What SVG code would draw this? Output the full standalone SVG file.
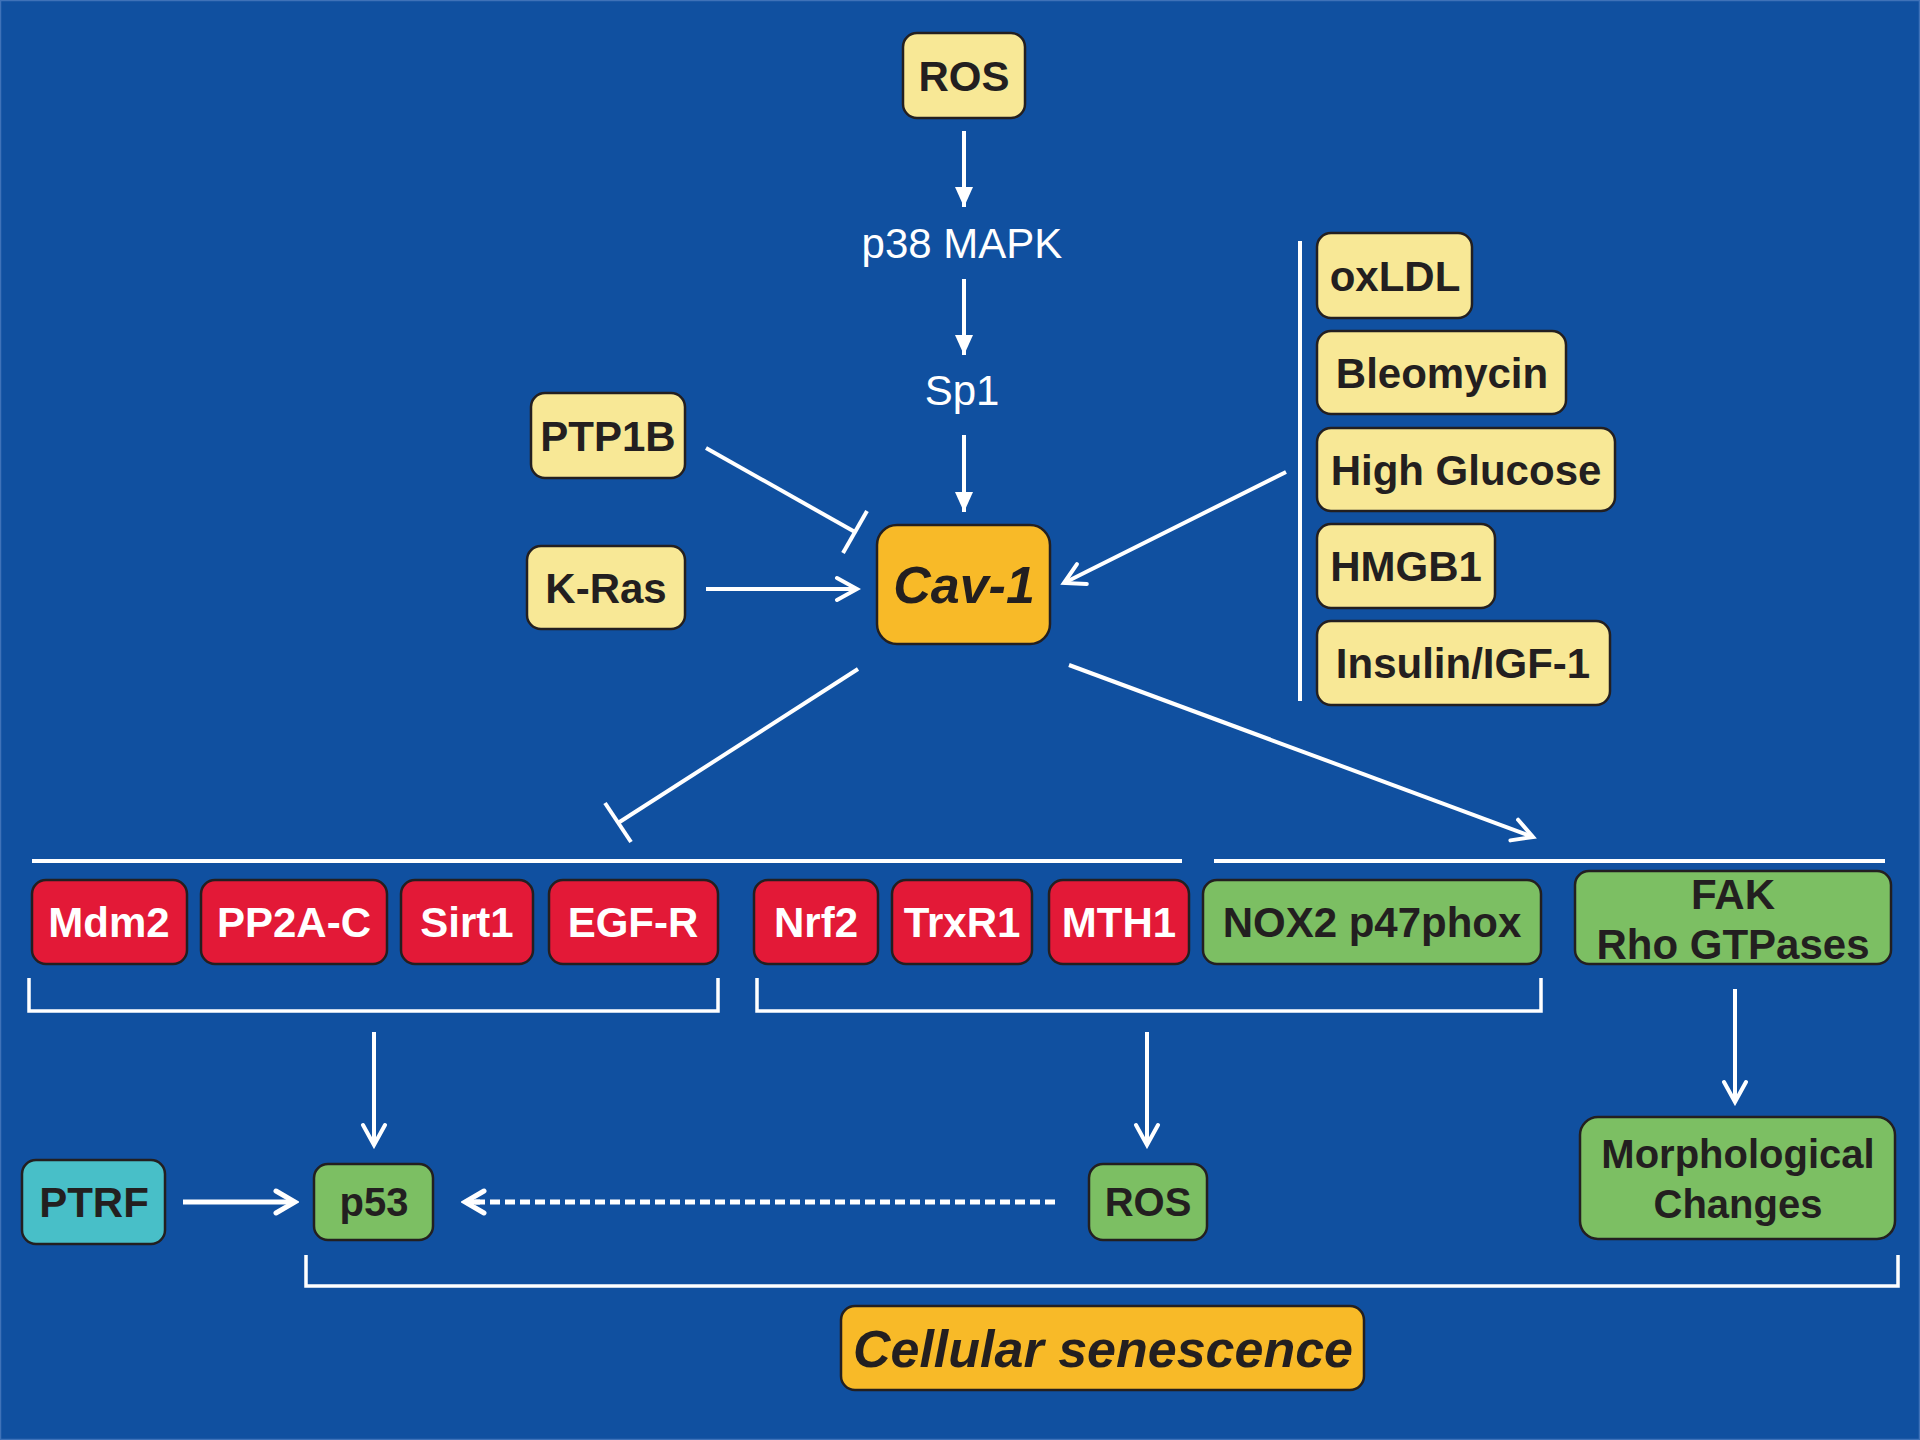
<svg xmlns="http://www.w3.org/2000/svg" width="1920" height="1440" viewBox="0 0 1920 1440">
<defs>
<style>
.box{stroke:#231F20;stroke-width:2.5}
.y{fill:#F8E896}
.r{fill:#E31937}
.g{fill:#7CBF63}
.t{fill:#48BFC8}
.o{fill:#F8BA28}
.lb{font-family:"Liberation Sans",Arial,sans-serif;font-weight:bold;font-size:42px;text-anchor:middle;fill:#231F20}
.lw{font-family:"Liberation Sans",Arial,sans-serif;font-weight:bold;font-size:42px;text-anchor:middle;fill:#FFFFFF}
.plain{font-family:"Liberation Sans",Arial,sans-serif;font-size:42px;text-anchor:middle;fill:#FFFFFF}
.bi{font-family:"Liberation Sans",Arial,sans-serif;font-weight:bold;font-style:italic;font-size:52px;text-anchor:middle;fill:#231F20}
.ln{stroke:#FFFFFF;stroke-width:4;fill:none}
.thick{stroke:#FFFFFF;stroke-width:5;fill:none}
.br{stroke:#FFFFFF;stroke-width:3.5;fill:none}
</style>
<marker id="tri" markerUnits="userSpaceOnUse" viewBox="-22 -11 24 22" markerWidth="24" markerHeight="22" refX="0" refY="0" orient="auto">
<path d="M0,0 L-20,-9 L-20,9 Z" fill="#FFFFFF"/>
</marker>
<marker id="chev" markerUnits="userSpaceOnUse" viewBox="-26 -16 30 32" markerWidth="30" markerHeight="32" refX="0" refY="0" orient="auto">
<path d="M-20,-11 L0,0 L-20,11" fill="none" stroke="#FFFFFF" stroke-width="4" stroke-linejoin="miter" stroke-linecap="round"/>
</marker>
<marker id="chev5" markerUnits="userSpaceOnUse" viewBox="-26 -16 30 32" markerWidth="30" markerHeight="32" refX="0" refY="0" orient="auto">
<path d="M-19,-11 L0,0 L-19,11" fill="none" stroke="#FFFFFF" stroke-width="5" stroke-linejoin="miter" stroke-linecap="round"/>
</marker>
</defs>
<rect x="0.5" y="0.5" width="1919" height="1439" fill="#1050A0" stroke="#3F72B8" stroke-width="1.5"/>

<g id="connectors">
<line class="ln" x1="964" y1="131" x2="964" y2="207" marker-end="url(#tri)"/>
<line class="ln" x1="964" y1="279" x2="964" y2="355" marker-end="url(#tri)"/>
<line class="ln" x1="964" y1="435" x2="964" y2="512" marker-end="url(#tri)"/>
<line class="ln" x1="706" y1="448" x2="855" y2="532"/>
<line class="ln" x1="867" y1="511" x2="843" y2="553"/>
<line class="ln" x1="706" y1="589" x2="857" y2="589" marker-end="url(#chev)"/>
<line class="ln" x1="1300" y1="241" x2="1300" y2="701"/>
<line class="ln" x1="1286" y1="472" x2="1064" y2="583" marker-end="url(#chev)"/>
<line class="ln" x1="858" y1="669" x2="618" y2="823"/>
<line class="ln" x1="605" y1="803" x2="631" y2="842"/>
<line class="ln" x1="1069" y1="665" x2="1533" y2="837" marker-end="url(#chev)"/>
<line class="ln" x1="32" y1="861" x2="1182" y2="861"/>
<line class="ln" x1="1214" y1="861" x2="1885" y2="861"/>
<polyline class="br" points="29,978 29,1011 718,1011 718,978"/>
<polyline class="br" points="757,978 757,1011 1541,1011 1541,978"/>
<line class="ln" x1="374" y1="1032" x2="374" y2="1145" marker-end="url(#chev)"/>
<line class="ln" x1="1147" y1="1032" x2="1147" y2="1145" marker-end="url(#chev)"/>
<line class="ln" x1="1735" y1="989" x2="1735" y2="1102" marker-end="url(#chev)"/>
<line class="thick" x1="183" y1="1202" x2="295" y2="1202" marker-end="url(#chev5)"/>
<line class="thick" x1="1055" y1="1202" x2="468" y2="1202" stroke-dasharray="10 5"/>
<line class="thick" x1="480" y1="1202" x2="465" y2="1202" marker-end="url(#chev5)"/>
<polyline class="br" points="306,1255 306,1286 1898,1286 1898,1255"/>
</g>

<g id="n-ros-top"><rect class="box y" x="903" y="33" width="122" height="85" rx="14"/><text class="lb" x="964" y="91">ROS</text></g>
<text class="plain" x="962" y="258">p38 MAPK</text>
<text class="plain" x="962" y="405">Sp1</text>
<g id="n-ptp1b"><rect class="box y" x="531" y="393" width="154" height="85" rx="14"/><text class="lb" x="608" y="451">PTP1B</text></g>
<g id="n-kras"><rect class="box y" x="527" y="546" width="158" height="83" rx="14"/><text class="lb" x="606" y="603">K-Ras</text></g>
<g id="n-cav1"><rect class="box o" x="877" y="525" width="173" height="119" rx="20"/><text class="bi" x="964" y="603">Cav-1</text></g>

<g id="n-oxldl"><rect class="box y" x="1317" y="233" width="155" height="85" rx="14"/><text class="lb" x="1395" y="291">oxLDL</text></g>
<g id="n-bleo"><rect class="box y" x="1317" y="331" width="249" height="83" rx="14"/><text class="lb" x="1442" y="388">Bleomycin</text></g>
<g id="n-glucose"><rect class="box y" x="1317" y="428" width="298" height="83" rx="14"/><text class="lb" x="1466" y="485">High Glucose</text></g>
<g id="n-hmgb1"><rect class="box y" x="1317" y="524" width="178" height="84" rx="14"/><text class="lb" x="1406" y="581">HMGB1</text></g>
<g id="n-insulin"><rect class="box y" x="1317" y="621" width="293" height="84" rx="14"/><text class="lb" x="1463" y="678">Insulin/IGF-1</text></g>

<g id="n-mdm2"><rect class="box r" x="32" y="880" width="155" height="84" rx="14"/><text class="lw" x="109" y="937">Mdm2</text></g>
<g id="n-pp2ac"><rect class="box r" x="201" y="880" width="186" height="84" rx="14"/><text class="lw" x="294" y="937">PP2A-C</text></g>
<g id="n-sirt1"><rect class="box r" x="401" y="880" width="132" height="84" rx="14"/><text class="lw" x="467" y="937">Sirt1</text></g>
<g id="n-egfr"><rect class="box r" x="549" y="880" width="169" height="84" rx="14"/><text class="lw" x="633" y="937">EGF-R</text></g>
<g id="n-nrf2"><rect class="box r" x="754" y="880" width="124" height="84" rx="14"/><text class="lw" x="816" y="937">Nrf2</text></g>
<g id="n-trxr1"><rect class="box r" x="892" y="880" width="140" height="84" rx="14"/><text class="lw" x="962" y="937">TrxR1</text></g>
<g id="n-mth1"><rect class="box r" x="1049" y="880" width="140" height="84" rx="14"/><text class="lw" x="1119" y="937">MTH1</text></g>
<g id="n-nox2"><rect class="box g" x="1203" y="880" width="338" height="84" rx="14"/><text class="lb" x="1372" y="937">NOX2 p47phox</text></g>
<g id="n-fak"><rect class="box g" x="1575" y="871" width="316" height="93" rx="14"/><text class="lb" x="1733" y="909">FAK</text><text class="lb" x="1733" y="959">Rho GTPases</text></g>

<g id="n-ptrf"><rect class="box t" x="22" y="1160" width="143" height="84" rx="14"/><text class="lb" x="94" y="1217">PTRF</text></g>
<g id="n-p53"><rect class="box g" x="314" y="1164" width="119" height="76" rx="14"/><text class="lb" x="374" y="1216" style="font-size:40px">p53</text></g>
<g id="n-ros-bottom"><rect class="box g" x="1089" y="1164" width="118" height="76" rx="14"/><text class="lb" x="1148" y="1216" style="font-size:40px">ROS</text></g>
<g id="n-morph"><rect class="box g" x="1580" y="1117" width="315" height="122" rx="18"/><text class="lb" x="1738" y="1168" style="font-size:40px">Morphological</text><text class="lb" x="1738" y="1218" style="font-size:40px">Changes</text></g>
<g id="n-senescence"><rect class="box o" x="841" y="1306" width="523" height="84" rx="14"/><text class="bi" x="1103" y="1367">Cellular senescence</text></g>
</svg>
